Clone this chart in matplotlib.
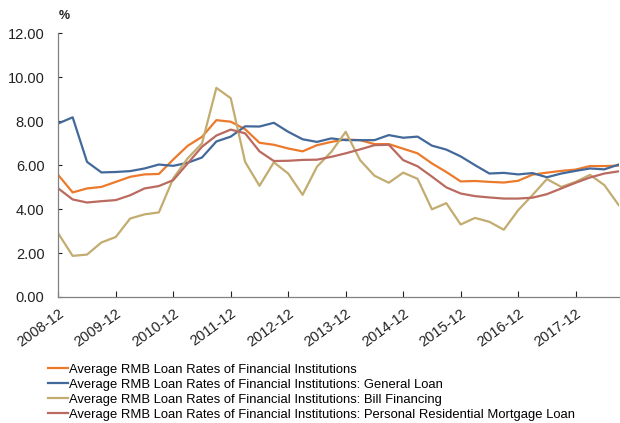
import numpy as np
import matplotlib
matplotlib.use("Agg")
import matplotlib.pyplot as plt

plt.rcParams['font.family'] = ['Liberation Sans', 'DejaVu Sans']

# quarterly, 2008-12 .. 2018-09
years = ["2008-12", "2009-12", "2010-12", "2011-12", "2012-12",
         "2013-12", "2014-12", "2015-12", "2016-12", "2017-12"]

avg_rate = [5.55, 4.76, 4.94, 5.01, 5.24, 5.47, 5.58, 5.60, 6.26, 6.88,
            7.29, 8.05, 7.98, 7.64, 7.02, 6.93, 6.76, 6.63, 6.91, 7.06,
            7.17, 7.14, 6.96, 6.96, 6.75, 6.54, 6.08, 5.69, 5.26, 5.28,
            5.24, 5.21, 5.29, 5.57, 5.66, 5.74, 5.80, 5.96, 5.96, 5.98]
general_loan = [7.90, 8.18, 6.15, 5.67, 5.69, 5.73, 5.85, 6.03, 5.97, 6.11,
                6.35, 7.08, 7.30, 7.77, 7.76, 7.93, 7.52, 7.18, 7.06, 7.22,
                7.14, 7.14, 7.14, 7.37, 7.25, 7.30, 6.89, 6.71, 6.40, 6.00,
                5.62, 5.65, 5.58, 5.64, 5.45, 5.62, 5.74, 5.85, 5.81, 6.03]
bill_financing = [2.89, 1.87, 1.93, 2.48, 2.73, 3.57, 3.76, 3.85, 5.40, 6.31,
                  6.99, 9.52, 9.05, 6.15, 5.06, 6.13, 5.62, 4.65, 5.93, 6.61,
                  7.52, 6.23, 5.52, 5.20, 5.66, 5.38, 3.99, 4.27, 3.30, 3.60,
                  3.42, 3.06, 3.95, 4.64, 5.37, 5.01, 5.24, 5.56, 5.09, 4.18]
mortgage = [4.94, 4.44, 4.30, 4.36, 4.41, 4.63, 4.94, 5.05, 5.32, 6.08,
            6.84, 7.35, 7.62, 7.45, 6.63, 6.19, 6.20, 6.24, 6.25, 6.38,
            6.54, 6.72, 6.91, 6.93, 6.23, 5.95, 5.48, 4.99, 4.71, 4.59,
            4.53, 4.48, 4.48, 4.52, 4.68, 4.94, 5.20, 5.44, 5.62, 5.72]

base = "Average RMB Loan Rates of Financial Institutions"
labels = [base,
          base + ": General Loan",
          base + ": Bill Financing",
          base + ": Personal Residential Mortgage Loan"]
colors = ["#EC7A2C", "#42699A", "#C3AC70", "#BA6A5F"]

x = np.arange(len(avg_rate))

fig = plt.figure(figsize=(6.2, 4.23), dpi=100)
ax = fig.add_axes([0.094, 0.298, 0.904, 0.623])

series = [avg_rate, general_loan, bill_financing, mortgage]
for vals, lab, c in zip(series, labels, colors):
    ax.plot(x, vals, color=c, linewidth=1.6, label=lab)

ax.set_xlim(0, len(x) - 1)
ax.set_ylim(0, 12)
ax.set_yticks(np.arange(0, 12.1, 2))
ax.set_yticklabels([f"{v:.2f}" for v in np.arange(0, 12.1, 2)], fontsize=10.5)
ax.set_xticks(np.arange(0, len(x), 4))
ax.set_xticklabels(years, rotation=36, ha='right', rotation_mode='anchor',
                   fontsize=10.5)

for s in ['top', 'right']:
    ax.spines[s].set_visible(False)
for s in ['left', 'bottom']:
    ax.spines[s].set_color('#808080')
    ax.spines[s].set_linewidth(0.9)
ax.tick_params(axis='x', direction='in', length=4, color='#808080', pad=7)
ax.tick_params(axis='y', direction='in', length=3, color='#808080', pad=10)
ax.tick_params(colors='#222222', which='both', labelcolor='#222222')

ax.text(0.0, 12.5, "%", fontsize=9, fontweight='bold', ha='left',
        va='bottom', color='#222222')

fig.legend(loc='upper left', bbox_to_anchor=(0.078, 0.14), ncol=1,
           frameon=False, fontsize=9.4, handlelength=1.5, handletextpad=0.1,
           labelspacing=0.22, borderaxespad=0, borderpad=0)

fig.savefig("out.png", dpi=100)
